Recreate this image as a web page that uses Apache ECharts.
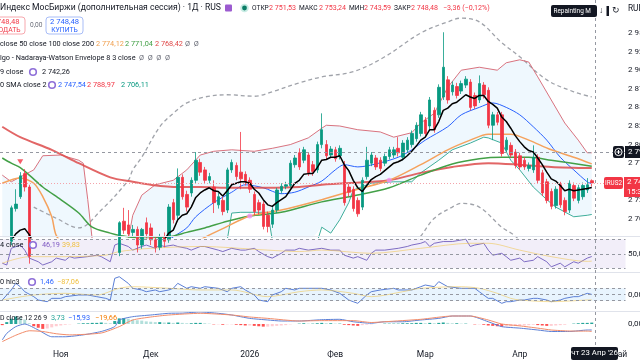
<!DOCTYPE html>
<html><head><meta charset="utf-8">
<script src="https://cdn.jsdelivr.net/npm/echarts@6/dist/echarts.min.js"></script>
<style>html,body{margin:0;padding:0;background:#fff;overflow:hidden}#c{width:640px;height:360px}</style>
</head><body><div id="c"></div>
<script>
const dates = [
'2025-10-15','2025-10-16','2025-10-17','2025-10-20','2025-10-21','2025-10-22','2025-10-23','2025-10-24','2025-10-27','2025-10-28','2025-10-29','2025-10-30','2025-10-31',
'2025-11-01','2025-11-03','2025-11-05','2025-11-06','2025-11-07','2025-11-10','2025-11-11','2025-11-12','2025-11-13','2025-11-14','2025-11-17','2025-11-18','2025-11-19','2025-11-20','2025-11-21','2025-11-24','2025-11-25','2025-11-26','2025-11-27','2025-11-28',
'2025-12-01','2025-12-02','2025-12-03','2025-12-04','2025-12-05','2025-12-08','2025-12-09','2025-12-10','2025-12-11','2025-12-12','2025-12-15','2025-12-16','2025-12-17','2025-12-18','2025-12-19','2025-12-22','2025-12-23','2025-12-24','2025-12-25','2025-12-26','2025-12-29','2025-12-30',
'2026-01-05','2026-01-06','2026-01-08','2026-01-09','2026-01-12','2026-01-13','2026-01-14','2026-01-15','2026-01-16','2026-01-19','2026-01-20','2026-01-21','2026-01-22','2026-01-23','2026-01-26','2026-01-27','2026-01-28','2026-01-29','2026-01-30',
'2026-02-02','2026-02-03','2026-02-04','2026-02-05','2026-02-06','2026-02-09','2026-02-10','2026-02-11','2026-02-12','2026-02-13','2026-02-16','2026-02-17','2026-02-18','2026-02-19','2026-02-20','2026-02-23','2026-02-24','2026-02-25','2026-02-26','2026-02-27',
'2026-03-02','2026-03-03','2026-03-04','2026-03-05','2026-03-06','2026-03-10','2026-03-11','2026-03-12','2026-03-13','2026-03-16','2026-03-17','2026-03-18','2026-03-19','2026-03-20','2026-03-23','2026-03-24','2026-03-25','2026-03-26','2026-03-27','2026-03-30','2026-03-31',
'2026-04-01','2026-04-02','2026-04-03','2026-04-06','2026-04-07','2026-04-08','2026-04-09','2026-04-10','2026-04-13','2026-04-14','2026-04-15','2026-04-16','2026-04-17','2026-04-20','2026-04-21','2026-04-22','2026-04-23',
'2026-04-24','2026-04-27','2026-04-28','2026-04-29','2026-04-30','2026-05-04','2026-05-05'];

const openP = [2650,2662,2670,2714,2730,2761,2743,2640,2620,2595,
2610,2585,2600,2620,2605,2590,2612,2630,2618,2600,
2585,2570,2588,2605,2598,2620,2655,2697,2692,2682,
2686,2665,2695,2688,2672,2662,2676,2672,2722,2705,
2756,2733,2735,2752,2776,2766,2752,2743,2719,2725,
2712,2766,2772,2763,2760,2752,2733,2722,2720,2705,
2693,2712,2738,2744,2745,2773,2789,2779,2786,2773,
2766,2800,2800,2786,2793,2785,2772,2743,2740,2725,
2716,2757,2775,2782,2779,2775,2784,2786,2795,2783,
2793,2800,2808,2815,2833,2825,2846,2840,2864,2887,
2871,2878,2872,2880,2884,2866,2860,2880,2873,2826,
2840,2840,2793,2799,2790,2785,2779,2768,2766,2783,
2762,2750,2737,2718,2746,2725,2712,2745,2725,2730,
2739,2751.53];
const closeP = [2662,2670,2715,2720,2758,2743,2650,2620,2595,2610,
2585,2600,2620,2605,2590,2612,2630,2618,2600,2585,
2570,2588,2605,2598,2620,2655,2695,2685,2680,2686,
2665,2686,2680,2672,2662,2676,2670,2716,2699,2756,
2730,2716,2752,2779,2763,2752,2757,2722,2730,2710,
2766,2776,2757,2754,2750,2740,2710,2712,2690,2690,
2712,2739,2744,2746,2775,2782,2770,2793,2762,2764,
2800,2820,2785,2794,2781,2795,2722,2736,2714,2707,
2752,2779,2786,2770,2768,2784,2793,2793,2789,2802,
2806,2815,2826,2840,2815,2860,2820,2877,2904,2860,
2880,2866,2882,2888,2850,2852,2882,2867,2826,2840,
2830,2788,2806,2786,2772,2770,2770,2772,2783,2752,
2735,2725,2717,2740,2719,2710,2748,2728,2742,2745,
2746,2748.48];
const lowP = [2645,2655,2665,2710,2727,2737,2640,2600,2580,2585,
2575,2570,2592,2598,2580,2585,2605,2610,2592,2575,
2560,2565,2580,2590,2592,2615,2650,2680,2676,2676,
2655,2660,2674,2665,2655,2658,2662,2668,2694,2700,
2726,2710,2730,2748,2758,2747,2748,2708,2714,2705,
2708,2762,2752,2740,2745,2735,2705,2706,2686,2682,
2688,2708,2734,2740,2742,2769,2766,2775,2758,2758,
2762,2795,2780,2782,2777,2780,2718,2730,2710,2703,
2712,2753,2771,2766,2764,2771,2780,2782,2784,2779,
2789,2796,2804,2811,2811,2821,2816,2836,2860,2855,
2866,2862,2868,2876,2846,2848,2856,2862,2822,2806,
2826,2784,2789,2782,2768,2766,2766,2764,2762,2748,
2731,2721,2713,2714,2715,2705,2708,2724,2721,2726,
2735,2743.59];
const highP = [2668,2674,2718,2740,2763,2767,2746,2652,2630,2620,
2618,2608,2628,2632,2612,2618,2640,2638,2625,2606,
2590,2594,2612,2615,2628,2662,2697,2715,2712,2692,
2690,2688,2702,2694,2676,2680,2682,2720,2727,2768,
2760,2738,2756,2790,2781,2770,2762,2752,2735,2730,
2769,2780,2776,2817,2764,2756,2737,2726,2724,2710,
2716,2742,2748,2750,2779,2786,2795,2797,2790,2778,
2804,2842,2806,2798,2797,2799,2778,2748,2744,2729,
2756,2797,2790,2786,2783,2788,2797,2797,2810,2806,
2810,2819,2830,2844,2837,2864,2850,2881,2951,2892,
2885,2883,2886,2892,2888,2870,2893,2884,2877,2844,
2844,2844,2810,2803,2794,2789,2783,2776,2799,2787,
2766,2754,2741,2744,2750,2729,2752,2749,2746,2749,
2755,2753.24];

const ema9 = [2655,2660,2671,2680,2685,2687,2679,2667,2653,2644,
2632,2626,2625,2621,2615,2614,2617,2617,2614,2608,
2601,2598,2600,2601,2605,2615,2631,2642,2650,2657,
2659,2664,2667,2668,2667,2669,2672,2681,2685,2699,
2705,2707,2716,2729,2735,2739,2742,2738,2737,2731,
2738,2746,2748,2750,2750,2748,2740,2735,2726,2719,
2717,2722,2726,2730,2739,2748,2752,2760,2761,2761,
2769,2779,2780,2783,2783,2785,2773,2765,2752,2742,
2737,2745,2753,2757,2760,2765,2770,2775,2777,2780,
2785,2791,2798,2806,2810,2820,2820,2831,2846,2849,
2855,2857,2862,2867,2864,2862,2866,2866,2858,2854,
2849,2837,2831,2822,2812,2804,2797,2792,2790,2782,
2773,2763,2754,2751,2745,2738,2740,2738,2739,2740,
2741,2742.26];

const ma50 = [[0,2748],[4,2755],[7,2748],[9,2730],[11,2703],[12,2678],[14,2665],[25,2630],[40,2655],[44,2672],[49,2687],[55,2704],[62,2712],[71,2726],[79,2740],[86,2752],[93,2773],[99,2793],[104,2806],[108,2814],[113,2814],[117,2806],[122,2793],[127,2783],[131,2774.12]];
const ma100 = [[0,2782],[2,2775],[4,2769],[6,2759],[9,2743],[13,2726],[17,2708],[20,2689],[24,2681],[26,2678],[31,2674],[37,2676],[41,2682],[45,2688],[50,2697],[55,2704],[62,2709],[71,2723],[78,2731],[86,2742],[93,2759],[100,2774],[106,2781],[111,2783],[117,2783],[122,2779],[131,2771.04]];
const ma200 = [[0,2824],[4,2810],[11,2793],[17,2775],[24,2756],[29,2750],[33,2746],[39,2743],[44,2743],[51,2742],[59,2742],[66,2743],[71,2746],[82,2750],[86,2752],[93,2762],[100,2770],[108,2775],[115,2773],[122,2770],[131,2768.42]];

const bbBasis = [[0,2665],[10,2650],[20,2620],[30,2640],[38,2676],[41,2688],[43,2703],[47,2722],[51,2736],[54,2746],[58,2742],[62,2734],[65,2736],[68,2743],[71,2751],[74,2766],[76,2773],[79,2770],[83,2774],[88,2783],[91,2793],[94,2806],[99,2824],[102,2840],[106,2850],[109,2856],[112,2850],[115,2840],[118,2824],[121,2806],[124,2783],[127,2766],[130,2750],[131,2747.54]];
const bbUpper = [[0,2759],[2,2750],[7,2766],[9,2785],[13,2786],[17,2779],[18,2775],[19,2726],[20,2672],[22,2640],[26,2640],[28,2672],[29,2705],[31,2732],[34,2746],[38,2752],[41,2766],[44,2786],[47,2791],[51,2793],[56,2791],[60,2795],[64,2800],[68,2809],[71,2822],[72,2826],[75,2825],[79,2820],[84,2817],[87,2810],[91,2816],[93,2829],[96,2842],[99,2877],[102,2900],[106,2904],[110,2900],[112,2910],[115,2914],[117,2911],[119,2891],[122,2860],[125,2829],[128,2806],[130,2789],[131,2788.97]];
const bbLower = [[0,2600],[20,2590],[40,2620],[48,2640],[50,2672],[51,2708],[53,2709],[59,2709],[60,2672],[64,2640],[69,2650],[71,2689],[73,2681],[75,2699],[77,2722],[78,2739],[82,2748],[87,2750],[91,2750],[93,2762],[97,2779],[100,2793],[104,2802],[107,2810],[108,2809],[111,2802],[113,2779],[115,2766],[118,2743],[121,2726],[123,2716],[127,2703],[130,2705],[131,2706.11]];

const nwUpper = [[7,2716],[12,2701],[17,2688],[22,2712],[28,2752],[29,2766],[31,2783],[35,2824],[38,2842],[41,2856],[45,2864],[50,2867],[56,2865],[60,2871],[66,2883],[71,2891],[78,2898],[85,2918],[93,2950],[99,2965],[102,2970],[106,2965],[111,2937],[115,2918],[121,2887],[127,2871],[131,2864]];
const nwLower = [[88,2640],[93,2677],[96,2701],[100,2716],[102,2721],[106,2716],[111,2689],[114,2677],[120,2640]];

const sellSignals = [[4,2777]];
const crossDots = [[55,2704],[86,2752]];

const rsi = [[0,37],[1,34.5],[2,57.5],[4,62],[5,55],[6,44],[8,39],[9,34.5],[11,39],[12,44],[14,41],[15,46],[16,44],[19,46],[21,48],[22,46],[24,39],[25,62],[26,64.4],[28,60],[29,55],[31,60],[32,62],[34,57.5],[35,62],[36,60],[38,62],[39,60],[41,57.5],[42,55],[44,60],[45,60],[48,55],[49,53],[51,57.5],[53,55],[54,55],[56,57.5],[57,53],[59,46],[60,44],[62,50.6],[63,55],[65,55],[66,57.5],[68,55],[71,57.5],[73,55],[75,55],[76,48],[78,44],[79,46],[81,41],[82,50.6],[83,55],[85,55],[88,57.5],[90,60],[91,62],[93,64.4],[94,66.8],[95,60],[96,64.4],[98,66.8],[100,66.8],[102,69],[103,70],[104,60],[105,62],[107,64.4],[108,55],[109,48],[111,50.6],[112,46],[113,41],[115,44],[116,39],[118,41],[119,46],[121,39],[122,32],[124,37],[125,32],[127,39],[128,37],[130,44],[131,46.19]];
const rsiMa = [[0,37],[6,46],[14,46],[23,48],[26,53],[33,57.5],[44,60],[59,55],[66,53],[71,55],[82,50.6],[93,57.5],[104,64.4],[108,64.4],[115,55],[122,46],[130,39.5],[131,39.83]];
const rsiLevels = [70, 50, 30];

const cci = [[0,-89],[2,73],[3,180],[4,126],[5,45],[7,-35],[8,-89],[10,-116],[11,-62],[13,-62],[14,-35],[17,-8],[19,-8],[21,-35],[23,-62],[24,-89],[25,261],[26,287],[28,180],[29,100],[31,73],[32,45],[34,73],[35,45],[37,73],[38,100],[39,180],[41,100],[42,126],[44,100],[45,126],[48,100],[50,45],[51,100],[53,126],[54,73],[56,-8],[57,-89],[59,-116],[60,-8],[62,45],[63,100],[65,73],[66,100],[68,100],[71,100],[73,73],[75,19],[77,-89],[78,-116],[79,-142],[81,-8],[82,45],[84,73],[87,100],[88,73],[91,73],[93,126],[94,153],[96,126],[97,207],[99,126],[102,100],[105,100],[106,45],[108,-62],[109,-62],[111,-142],[112,-116],[113,-116],[115,-89],[116,-89],[118,-62],[119,-62],[121,-89],[122,-116],[124,-89],[125,-62],[127,-35],[128,-35],[130,19],[131,1.46]];
const cciMa = [[0,-89],[7,-8],[14,19],[21,-8],[26,100],[29,126],[37,100],[44,73],[51,73],[59,-35],[66,45],[71,73],[78,19],[82,-35],[89,45],[93,100],[102,126],[106,100],[110,19],[113,-62],[115,-89],[122,-116],[130,-89],[131,-87.06]];
const cciLevels = [100, 0, -100];

const macdLine = [[0,-42.7],[1,-25],[3,-7],[5,0],[8,-16],[11,-34],[14,-34],[18,-29],[22,-20],[25,-7],[26,10.7],[29,19.5],[33,24],[37,28.5],[40,29],[44,32],[48,28.5],[51,24],[55,15],[59,10.7],[62,8],[66,8],[71,11.5],[75,12.5],[78,6],[82,2],[85,6],[89,6],[93,10.7],[97,15],[100,21.3],[104,21.3],[108,6],[111,-7],[115,-11],[119,-16],[122,-20],[126,-20],[130,-16],[131,-15.93]];
const signalLine = [[0,-47],[3,-30],[6,-18],[9,-20],[12,-26],[15,-29],[22,-24],[26,-7],[29,10.7],[33,18.7],[37,24],[44,28.5],[51,24],[55,18.7],[59,15],[66,8],[71,9],[78,9],[82,4],[85,6],[93,12.5],[100,21.3],[104,21.3],[108,10.7],[111,0],[115,-5],[119,-11],[122,-16],[126,-18.7],[130,-19],[131,-19.66]];
const hist = [-3,5,14,20,18,12,2,-6,-10,-13,
-12,-9,-6,-4,-2,-1,0,1,2,2,
3,3,4,3,2,8,15,16,14,12,
10,9,7,6,5,5,4,4,3,4,
3,2,2,3,3,2,1,-1,-1,-2,
-1,-1,-2,-3,-4,-4,-5,-6,-7,-7,
-6,-5,-4,-3,-1,0,1,2,1,1,
2,3,2,2,1,1,-2,-3,-4,-5,
-3,-2,-1,0,0,1,1,1,1,2,
2,2,3,3,2,3,2,3,4,3,
2,2,1,1,0,-1,-1,-2,-4,-5,
-6,-7,-6,-6,-5,-5,-4,-3,-2,-3,
-4,-5,-5,-4,-3,-2,0,1,2,3,
3,3.73];

const lastPrice = 2748.48;
const crossPrice = 2790;
const monthNames = ['2026','Фев','Мар','Апр','Май','Июн','Июл','Авг','Сен','Окт','Ноя','Дек'];

function fmtNum(v){
  const neg = v < 0; const s = Math.abs(v).toFixed(2).split('.');
  s[0] = s[0].replace(/\B(?=(\d{3})+(?!\d))/g, ' ');
  return (neg ? '−' : '') + s[0] + ',' + s[1];
}

const FONT = 'Roboto';
const chart = echarts.init(document.getElementById('c'), null, {renderer:'canvas'});

const gridBase = {left:0, right:14.5, containLabel:false, outerBoundsMode:'none'};
const grids = [
  Object.assign({top:14.4, height:223.2}, gridBase),
  Object.assign({top:235.6, height:36.3}, gridBase),
  Object.assign({top:272.8, height:37.2}, gridBase),
  Object.assign({top:311.25, height:35.25}, gridBase)
];
const xAxes = grids.map((g, i) => ({
  type:'category', gridIndex:i, data:dates, boundaryGap:true,
  axisLine:{show:false}, axisTick:{show:false}, splitLine:{show:false},
  axisPointer:{show:false},
  axisLabel: i === 3 ? {
    show:true, fontSize:8.5, color:'#131722', fontFamily:FONT, margin:4,
    interval:(idx) => idx > 0 && dates[idx].slice(5,7) !== dates[idx-1].slice(5,7),
    formatter:(val) => { const m = +val.slice(5,7); return m === 1 ? val.slice(0,4) : monthNames[m-1]; }
  } : {show:false}
}));
function yAx(i, min, max, interval, fmt){
  return {type:'value', gridIndex:i, position:'right', min:min, max:max, interval:interval,
    splitLine:{show:false}, axisLine:{show:false}, axisTick:{show:false},
    axisLabel:{show:true, margin:2.5, fontSize:8, color:'#131722', fontFamily:FONT,
      showMinLabel:false, showMaxLabel:false, formatter:fmt}};
}
const yAxes = [
  yAx(0, 2675, 2975, 25, fmtNum),
  yAx(1, 25, 75, 25, v => v === 50 ? '50,00' : ''),
  yAx(2, -250, 350, 250, v => v === 0 ? '0,00' : ''),
  yAx(3, -60, 34, 30, v => v === 0 ? '0,00' : '')
];

function line(name, data, color, width, gi, extra){
  return Object.assign({type:'line', name:name, data:data, xAxisIndex:gi, yAxisIndex:gi,
    symbol:'none', clip:true, silent:true, z:3,
    lineStyle:{color:color, width:width}}, extra || {});
}
const levelLine = (vals) => ({silent:true, symbol:['none','none'], label:{show:false},
  lineStyle:{color:'#9598a1', width:1, type:[3,3]}, data: vals.map(v => ({yAxis:v}))});

const series = [
  {type:'custom', name:'BB fill', xAxisIndex:0, yAxisIndex:0, z:1, silent:true, data:[[0,2700]],
    renderItem:function(params, api){
      const cl = v => Math.max(2675, Math.min(2975, v));
      const pts = [];
      bbUpper.forEach(d => pts.push(api.coord([d[0], cl(d[1])])));
      for (let k = bbLower.length - 1; k >= 0; k--) pts.push(api.coord([bbLower[k][0], cl(bbLower[k][1])]));
      return {type:'polygon', shape:{points:pts}, style:{fill:'rgba(33,150,243,0.07)'}};
    }},
  line('NW upper', nwUpper, '#9e9e9e', 1.3, 0, {smooth:0.35, lineStyle:{color:'#a0a3aa', width:1.3, type:[4,3]}}),
  line('NW lower', nwLower, '#9e9e9e', 1.3, 0, {smooth:0.35, lineStyle:{color:'#a0a3aa', width:1.3, type:[4,3]}}),
  line('BB upper', bbUpper, '#d9737f', 1, 0),
  line('BB lower', bbLower, '#3fae9b', 1, 0),
  line('BB basis', bbBasis, '#2962ff', 1, 0, {smooth:0.3}),
  line('MA200', ma200, 'rgba(221,75,75,0.85)', 2, 0, {smooth:0.3}),
  line('MA100', ma100, '#43a047', 1.5, 0, {smooth:0.3}),
  line('MA50', ma50, '#f5a25d', 1.5, 0, {smooth:0.3}),
  {type:'candlestick', name:'IMOEX', xAxisIndex:0, yAxisIndex:0, z:3, clip:true, silent:true, barWidth:3,
    data: openP.map((o, i) => [o, closeP[i], lowP[i], highP[i]]),
    itemStyle:{color:'#089981', color0:'#f23645', borderColor:'#089981', borderColor0:'#f23645', borderWidth:0.8},
    markLine:{silent:true, symbol:['none','none'], label:{show:false}, data:[
      {yAxis:lastPrice, lineStyle:{color:'#f4a3aa', type:[1,2], width:1}},
      {yAxis:crossPrice, lineStyle:{color:'#9598a1', type:[3,3], width:1}}]}},
  line('EMA9', ema9, '#000000', 1.5, 0, {z:4}),
  {type:'scatter', xAxisIndex:0, yAxisIndex:0, data:sellSignals, symbol:'triangle', symbolRotate:180, symbolSize:[6,5], itemStyle:{color:'#f23645'}, z:5, silent:true},
  {type:'scatter', xAxisIndex:0, yAxisIndex:0, data:crossDots, symbol:'circle', symbolSize:5, itemStyle:{color:'#f08ef5'}, z:5, silent:true},
  line('RSI', rsi, '#7e6cc4', 1, 1, {markArea:{silent:true, itemStyle:{color:'rgba(126,87,194,0.1)'}, data:[[{yAxis:rsiLevels[0]},{yAxis:rsiLevels[2]}]]}, markLine: levelLine(rsiLevels)}),
  line('RSI MA', rsiMa, 'rgba(240,200,90,0.6)', 1, 1, {smooth:0.3}),
  line('CCI', cci, '#5b7fd6', 1, 2, {markArea:{silent:true, itemStyle:{color:'rgba(33,150,243,0.1)'}, data:[[{yAxis:cciLevels[0]},{yAxis:cciLevels[2]}]]}, markLine: levelLine(cciLevels)}),
  line('CCI MA', cciMa, 'rgba(240,200,90,0.6)', 1, 2, {smooth:0.3}),
  {type:'bar', name:'Hist', xAxisIndex:3, yAxisIndex:3, data:hist, barWidth:3, silent:true, z:2,
    itemStyle:{color:function(p){ const v = hist[p.dataIndex], pr = p.dataIndex > 0 ? hist[p.dataIndex-1] : 0;
      if (v >= 0) return v >= pr ? '#26a69a' : '#b2dfdb'; return v < pr ? '#ff5252' : '#ffcdd2'; }}},
  line('MACD', macdLine, '#5b7fd6', 1, 3, {smooth:0.2}),
  line('Signal', signalLine, '#f28c6a', 1, 3, {smooth:0.2})
];

const LF = 7.3;
function T(x, y, s, color, size, extra){
  return {type:'text', x:x, y:y, z:100, silent:true,
    style:Object.assign({text:s, fill:color, fontSize:size || LF, fontFamily:FONT, align:'left', verticalAlign:'middle'}, extra || {})};
}
function R(x, y, w, h, fill, stroke, r, z){
  return {type:'rect', z:z || 99, silent:true, shape:{x:x, y:y, width:w, height:h, r:r || 0},
    style:{fill:fill, stroke:stroke || null, lineWidth:1}};
}
function ring(cx, cy){
  return {type:'circle', z:100, silent:true, shape:{cx:cx, cy:cy, r:3.3}, style:{fill:'#fff', stroke:'#8e6fd8', lineWidth:1.6}};
}
const DK = '#131722', RED = '#f23645', BLUE = '#2962ff', GREY = '#6a6d78';
const graphics = [
  {type:'line', z:60, silent:true, shape:{x1:0, y1:236.5, x2:640, y2:236.5}, style:{stroke:'#e0e3eb', lineWidth:1}},
  {type:'line', z:60, silent:true, shape:{x1:0, y1:272.5, x2:640, y2:272.5}, style:{stroke:'#e0e3eb', lineWidth:1}},
  {type:'line', z:60, silent:true, shape:{x1:0, y1:311.5, x2:640, y2:311.5}, style:{stroke:'#e0e3eb', lineWidth:1}},
  {type:'line', z:61, silent:true, shape:{x1:595.5, y1:0, x2:595.5, y2:347}, style:{stroke:'#9598a1', lineWidth:1, lineDash:[3,3]}},
  // title row
  T(0, 8, 'Индекс МосБиржи (дополнительная сессия) · 1Д · RUS', DK, 8.6),
  R(225, 4.5, 7, 7, '#9c5bd0', null, 1),
  {type:'circle', z:100, silent:true, shape:{cx:244.5, cy:8, r:4.3}, style:{fill:'#c8ece4'}},
  {type:'circle', z:101, silent:true, shape:{cx:244.5, cy:8, r:2.4}, style:{fill:'#0b7d66'}},
  T(252, 8, 'ОТКР', DK, 6.6), T(269, 8, '2 751,53', RED, 7.1),
  T(299, 8, 'МАКС', DK, 6.6), T(319, 8, '2 753,24', RED, 7.1),
  T(349, 8, 'МИН', DK, 6.6), T(364, 8, '2 743,59', RED, 7.1),
  T(394, 8, 'ЗАКР', DK, 6.6), T(411, 8, '2 748,48', RED, 7.1),
  T(443, 8, '−3,36 (−0,12%)', RED, 7.1),
  // buttons
  R(-20, 17, 45, 17, '#fff', '#f7a8ae', 3),
  T(5, 22, '2 748,48', RED, 7.6, {align:'center'}),
  T(5, 30, 'ПРОДАТЬ', RED, 6.8, {align:'center'}),
  T(30, 25.5, '0,00', GREY, 6.6),
  R(46, 17, 37, 17, '#fff', '#a8bdf7', 3),
  T(64.5, 22, '2 748,48', BLUE, 7.6, {align:'center'}),
  T(64.5, 30, 'КУПИТЬ', BLUE, 6.8, {align:'center'}),
  // legend rows
  T(0, 44, 'close 50 close 100 close 200', DK),
  T(96, 44, '2 774,12', '#f0a050'), T(125, 44, '2 771,04', '#43a047'), T(155, 44, '2 768,42', '#e04848'),
  T(185, 44, 'Ø  Ø', GREY),
  T(0, 58, 'lgo - Nadaraya-Watson Envelope 8 3 close', DK),
  T(139, 58, 'Ø  Ø  Ø  Ø', GREY),
  T(0, 72, '9 close', DK), ring(33, 72), T(42, 72, '2 742,26', DK),
  T(0, 85, '0 SMA close 2', DK), ring(52, 85),
  T(58, 85, '2 747,54', BLUE), T(87, 85, '2 788,97', RED), T(121, 85, '2 706,11', '#089981'),
  T(0, 245, '4 close', DK), ring(33, 245), T(42, 245, '46,19', '#7e57c2'), T(62, 245, '39,83', '#f0c040'),
  T(-4, 282, '20 hlc3', DK), ring(32, 282), T(40, 282, '1,46', BLUE), T(57, 282, '−87,06', '#f0c040'),
  T(0, 318, 'D close 12 26 9', DK, 6.9), T(51, 318, '3,73', '#26a69a'), T(68, 318, '−15,93', BLUE), T(95, 318, '−19,66', '#f57c00'),
  // repainting tooltip + icons
  R(551, 5, 46, 12, DK, null, 2),
  T(553.5, 11, 'Repainting Mode', '#fff', 6.4, {width:42, overflow:'truncate', ellipsis:''}),
  T(599, 11, '↓', DK, 8.5),
  R(606.5, 6, 2.5, 10, DK, null, 0),
  T(612, 11, '↻', DK, 9),
  T(628, 9, 'RUB', DK, 8.3),
  // crosshair price label
  R(613, 146, 11, 12, DK, null, 2),
  {type:'circle', z:101, silent:true, shape:{cx:618.5, cy:152, r:3.6}, style:{fill:'none', stroke:'#fff', lineWidth:1}},
  {type:'line', z:101, silent:true, shape:{x1:616.5, y1:152, x2:620.5, y2:152}, style:{stroke:'#fff', lineWidth:1}},
  {type:'line', z:101, silent:true, shape:{x1:618.5, y1:150, x2:618.5, y2:154}, style:{stroke:'#fff', lineWidth:1}},
  R(625, 146, 15, 12, DK, null, 0),
  T(628, 152, '2 790,00', '#fff', 8),
  // last price label
  R(604, 177, 19, 12, RED, null, 2),
  T(613.5, 183, 'IRUS2', '#fff', 6.3, {align:'center'}),
  R(624, 177, 16, 20, RED, null, 0),
  T(627, 182, '2 748,48', '#fff', 8),
  T(627, 192, '15:31:52', '#fff', 7.6),
  // date label
  R(571, 347, 47, 13, DK, null, 2),
  T(594.5, 353.5, "чт 23 Апр '26", '#fff', 7.8, {align:'center'})
];

chart.setOption({
  animation:false,
  backgroundColor:'#ffffff',
  textStyle:{fontFamily:FONT},
  grid:grids, xAxis:xAxes, yAxis:yAxes, series:series, graphic:graphics
});
</script></body></html>
